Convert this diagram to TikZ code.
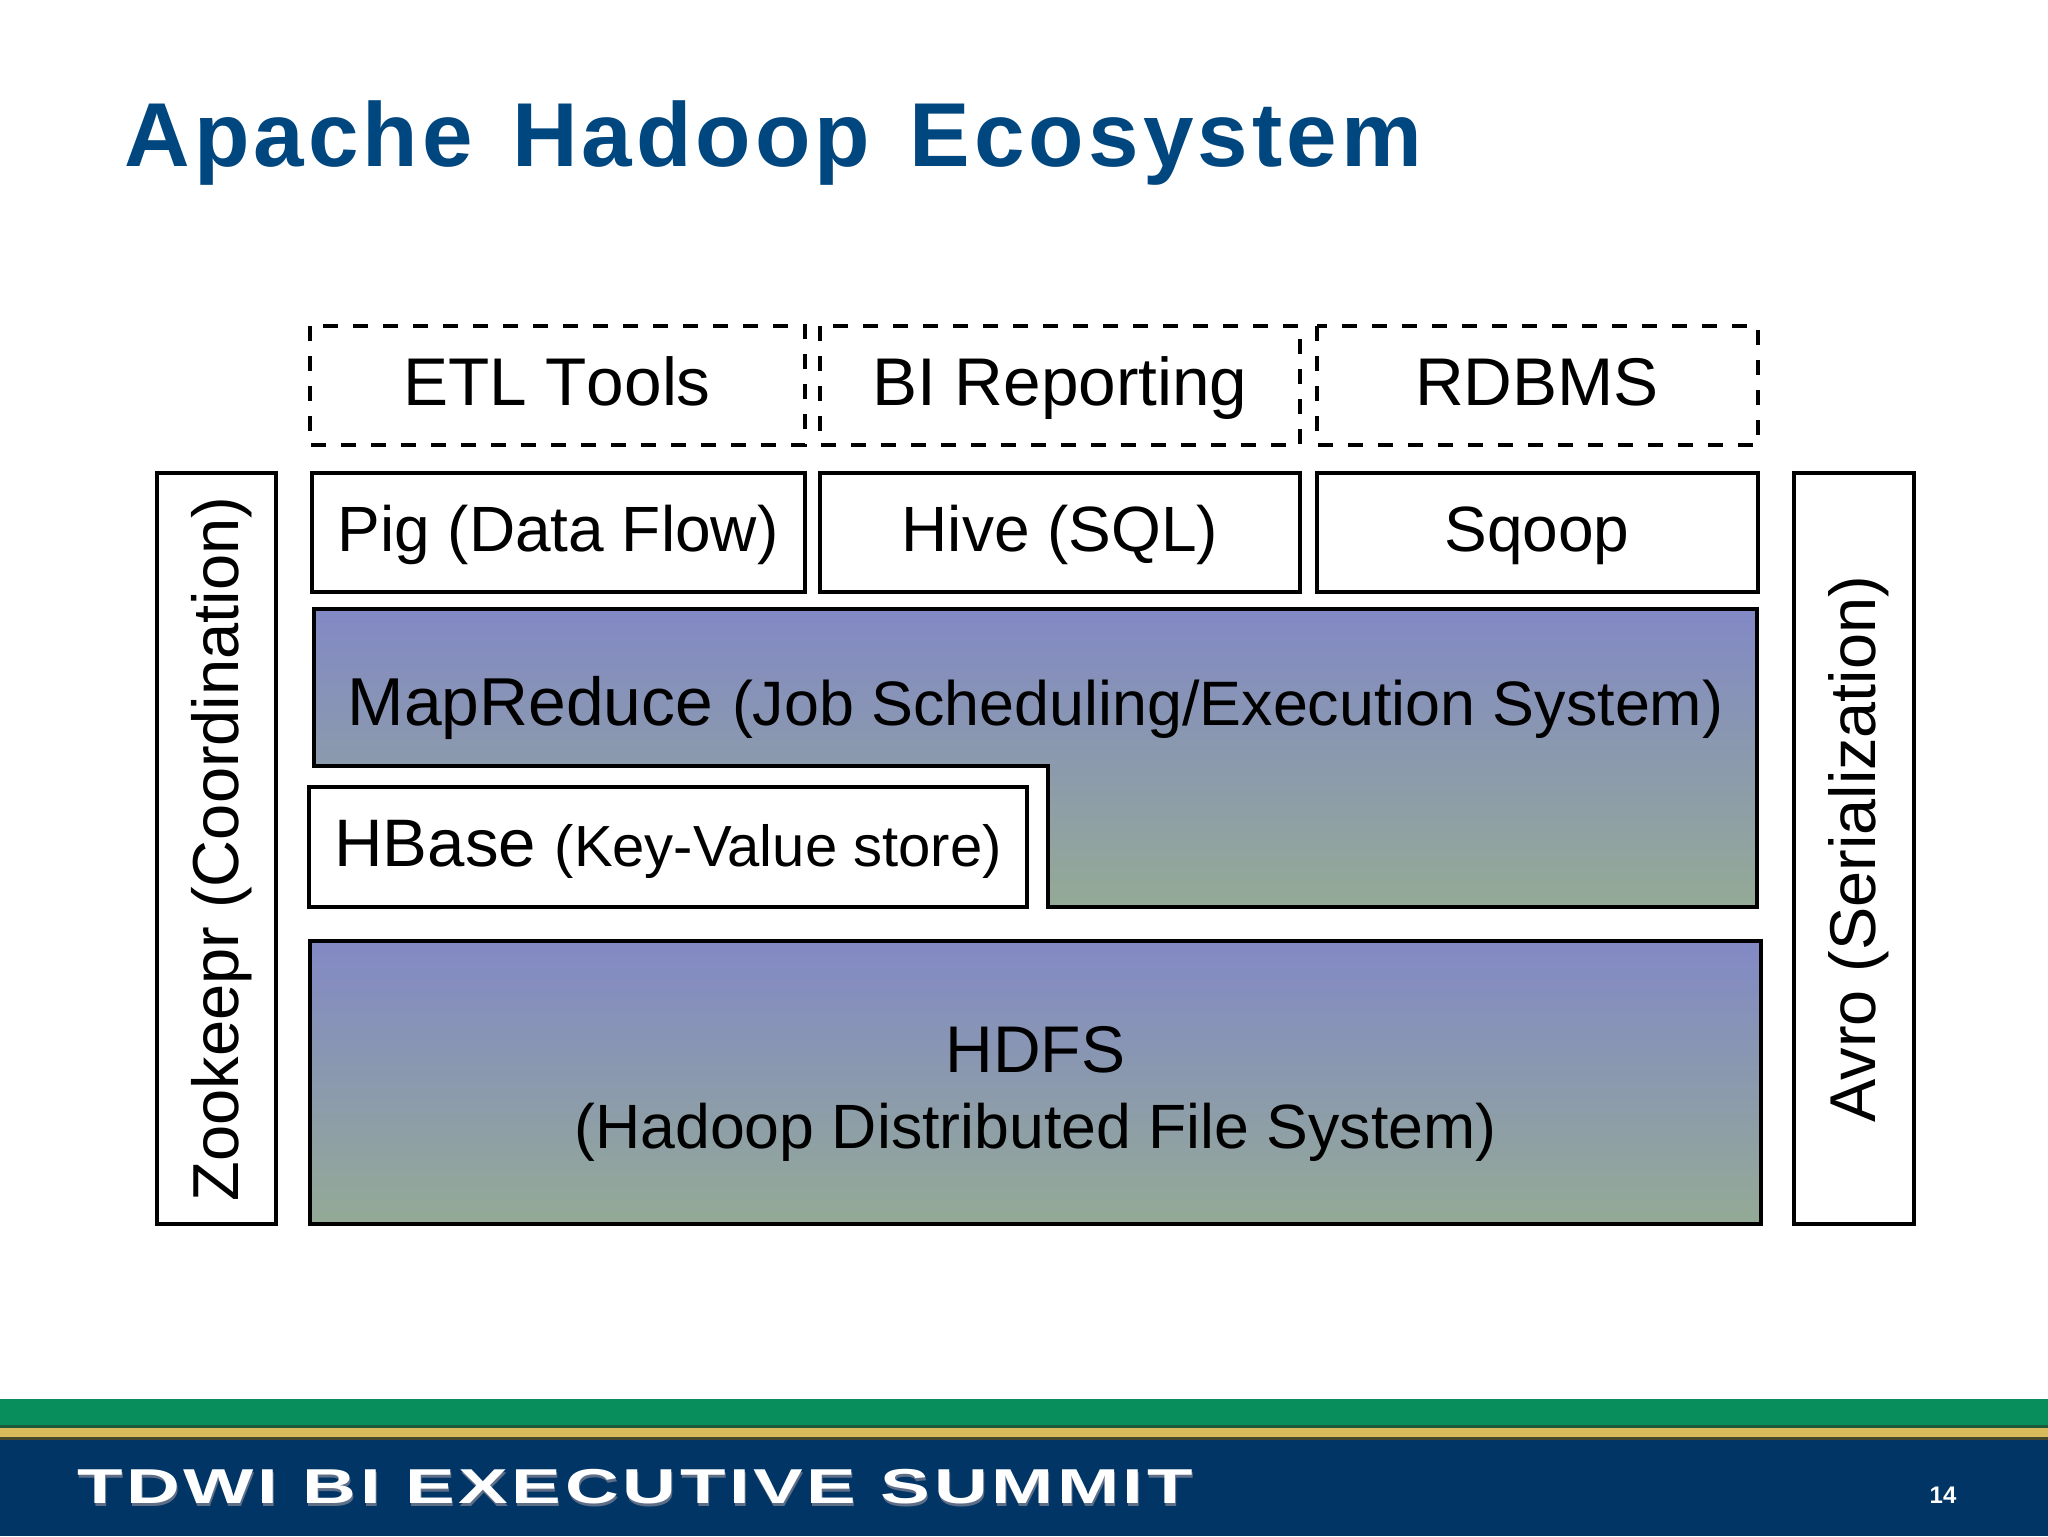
\documentclass[tikz,border=0pt]{standalone}
\usepackage{fontspec}
\setmainfont{Liberation Sans}
\newfontfamily\titlefont{Liberation Sans}[LetterSpace=4.5]
\newfontfamily\footfont{Liberation Sans}[FakeStretch=1.52,LetterSpace=7.4]
\newfontfamily\nokernfont{Liberation Sans}[Kerning=Off]
\definecolor{titleblue}{RGB}{0,70,127}
\definecolor{gtop}{RGB}{130,137,197}
\definecolor{gbot}{RGB}{148,170,150}
\definecolor{fgreen}{RGB}{8,142,93}
\definecolor{fdarkgreen}{RGB}{28,88,58}
\definecolor{fgold}{RGB}{214,186,92}
\definecolor{fdarkgold}{RGB}{70,70,45}
\definecolor{fnavy}{RGB}{0,53,102}
\definecolor{fshadow}{RGB}{95,110,135}
\newcommand{\fsz}[1]{\fontsize{#1pt}{#1pt}\selectfont}
\tikzset{
  solidbox/.style={draw=black, line width=2pt, fill=white},
  dashbox/.style={draw=black, line width=2pt, dash pattern=on 7.5pt off 7.5pt},
  gradbox/.style={draw=black, line width=2pt, top color=gtop, bottom color=gbot},
  lbl/.style={inner sep=0pt, anchor=base, text=black},
}
\begin{document}
\begin{tikzpicture}[x=0.5pt, y=-0.5pt]
\useasboundingbox (0,0) rectangle (2048,1536);
\fill[white] (0,0) rectangle (2048,1536);

% title
\node[inner sep=0pt, anchor=base west, text=titleblue, font=\titlefont\bfseries\fsz{45.4}] (title) at (124,166) {Apache\hskip5pt\ Hadoop\hskip5pt\ Ecosystem};

% dashed top row
\draw[dashbox] (310,326) rectangle (805,445);
\draw[dashbox] (820,326) rectangle (1300,445);
\draw[dashbox] (1317,326) rectangle (1758,445);
\node[lbl, font=\nokernfont\fsz{33.75}] (etl) at (557,405) {ETL Tools};
\node[lbl, font=\fsz{33.75}] (bi) at (1060,405) {BI Reporting};
\node[lbl, font=\fsz{33.75}] (rdbms) at (1537,405) {RDBMS};

% solid row
\draw[solidbox] (312,473) rectangle (805,592);
\draw[solidbox] (820,473) rectangle (1300,592);
\draw[solidbox] (1317,473) rectangle (1758,592);
\node[lbl, font=\fsz{32}] (pig) at (558,551) {Pig (Data Flow)};
\node[lbl, font=\fsz{32}] (hive) at (1060,551) {Hive (SQL)};
\node[lbl, font=\fsz{32}] (sqoop) at (1537,551) {Sqoop};

% MapReduce
\path[gradbox] (314,609) -- (1757,609) -- (1757,907) -- (1048,907) -- (1048,766) -- (314,766) -- cycle;
\node[lbl] (mr) at (1035.5,725) {\fsz{33.9}MapReduce \fsz{31.4}(Job Scheduling/Execution System)};

% HBase
\draw[solidbox] (309,787) rectangle (1027,907);
\node[lbl] (hbase) at (668,866) {\fsz{33.6}HBase \fsz{29}(Key-Value store)};

% HDFS
\path[gradbox] (309.5,940.5) rectangle (1760.5,1224);
\node[lbl, font=\fsz{33}] (hdfs) at (1035.5,1072) {HDFS};
\node[lbl, font=\fsz{31.3}] (hdfsfull) at (1035.5,1148) {(Hadoop Distributed File System)};

% side bars
\draw[solidbox] (156.5,473) rectangle (276,1224);
\draw[solidbox] (1794,473) rectangle (1914,1224);
\node[lbl, rotate=90, font=\fsz{32.5}] (zk) at (238,849) {Zookeepr (Coordination)};
\node[lbl, rotate=90, font=\fsz{32.4}] (avro) at (1875,849) {Avro (Serialization)};

% footer
\fill[fgreen] (0,1399) rectangle (2048,1425);
\fill[fdarkgreen] (0,1425) rectangle (2048,1428);
\fill[fgold] (0,1428) rectangle (2048,1437);
\fill[fdarkgold] (0,1437) rectangle (2048,1440);
\fill[fnavy] (0,1440) rectangle (2048,1536);
\node[inner sep=0pt, anchor=base west, text=fshadow, font=\footfont\bfseries\fsz{24.5}] (tdwishadow) at (78,1506) {TDWI BI EXECUTIVE SUMMIT};
\node[inner sep=0pt, anchor=base west, text=white, font=\footfont\bfseries\fsz{24.5}] (tdwi) at (77,1503) {TDWI BI EXECUTIVE SUMMIT};
\node[inner sep=0pt, anchor=base, text=white, font=\bfseries\fsz{12}] (pagenum) at (1943,1503) {14};
\end{tikzpicture}
\end{document}
